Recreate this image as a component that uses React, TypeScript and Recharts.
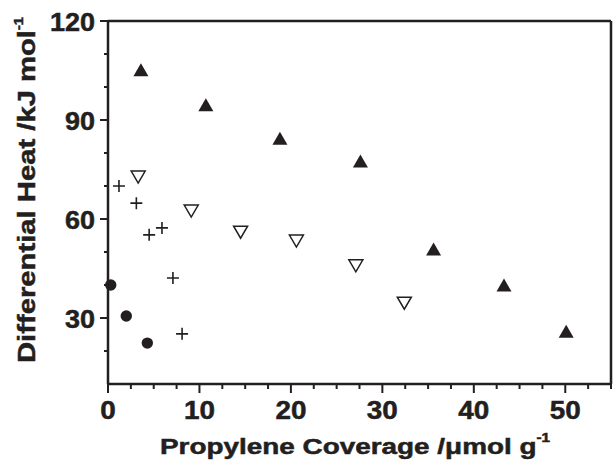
import { ScatterChart, Scatter, XAxis, YAxis, ReferenceLine } from "recharts";

const ink = "#231f20";
const font = "'Liberation Sans', Arial, sans-serif";

// filled up-triangles
const upX = [3.6, 10.7, 18.8, 27.6, 35.6, 43.3, 50.1];
const upY = [105.2, 94.6, 84.5, 77.6, 50.9, 40.0, 26.0];
// open down-triangles
const downX = [3.3, 9.1, 14.5, 20.6, 27.1, 32.4];
const downY = [72.7, 62.4, 56.0, 53.3, 45.8, 34.5];
// crosses
const plusX = [1.2, 3.1, 4.5, 5.9, 7.1, 8.1];
const plusY = [70.0, 64.8, 55.2, 57.3, 42.1, 25.2];
// filled circles
const dotX = [0.3, 2.0, 4.3];
const dotY = [40.0, 30.6, 22.4];

const xTicks = [0, 2.5, 5, 7.5, 10, 12.5, 15, 17.5, 20, 22.5, 25, 27.5, 30, 32.5, 35, 37.5, 40, 42.5, 45, 47.5, 50, 52.5, 55];
const yTicks = [20, 30, 40, 50, 60, 70, 80, 90, 100, 110, 120];

const pts = (xs: number[], ys: number[]) => xs.map((x, i) => ({ x, y: ys[i] }));

const UpTri = (p: any) => (
  <polygon
    points={`${p.cx},${p.cy - 6.5} ${p.cx - 7.5},${p.cy + 6.5} ${p.cx + 7.5},${p.cy + 6.5}`}
    fill={ink}
  />
);
const DownTri = (p: any) => (
  <polygon
    points={`${p.cx - 7},${p.cy - 6} ${p.cx + 7},${p.cy - 6} ${p.cx},${p.cy + 6}`}
    fill="#fff"
    stroke={ink}
    strokeWidth={1.5}
  />
);
const Plus = (p: any) => (
  <path d={`M${p.cx - 6},${p.cy}H${p.cx + 6}M${p.cx},${p.cy - 6}V${p.cy + 6}`} stroke={ink} strokeWidth={1.6} />
);
const Dot = (p: any) => <circle cx={p.cx} cy={p.cy} r={5.7} fill={ink} />;

// bold text, slightly thickened to match the heavy print look
const txt = { fill: ink, fontFamily: font, fontWeight: "bold" as const, stroke: ink, strokeWidth: 0.5 };

const XTick = ({ x, y, payload }: any) => {
  const major = payload.value % 10 === 0;
  const s = String(payload.value);
  return (
    <g>
      <line x1={x} x2={x} y1={y} y2={y + (major ? 9 : 5)} stroke={ink} strokeWidth={2} />
      {major && (
        <text x={x} y={y + 35} textAnchor="middle" {...txt} fontSize={25}
          textLength={s.length * 15.5} lengthAdjust="spacingAndGlyphs">
          {s}
        </text>
      )}
    </g>
  );
};

const YTick = ({ x, y, payload }: any) => {
  const major = payload.value % 30 === 0;
  const s = String(payload.value);
  return (
    <g>
      <line x1={x} x2={x - (major ? 8 : 4)} y1={y} y2={y} stroke={ink} strokeWidth={2} />
      {major && (
        <text x={x - 13} y={y + 10} textAnchor="end" {...txt} fontSize={25}
          textLength={s.length * 15} lengthAdjust="spacingAndGlyphs">
          {s}
        </text>
      )}
    </g>
  );
};

export default function App() {
  return (
    <div style={{ position: "absolute", left: 0, top: 0, width: 615, height: 465, background: "#fff" }}>
      <ScatterChart width={615} height={465} margin={{ top: 21, right: 4, bottom: 0, left: 0 }}>
        <XAxis
          type="number"
          dataKey="x"
          domain={[0, 55]}
          ticks={xTicks}
          interval={0}
          height={81}
          tickSize={0}
          tickMargin={0}
          tickLine={false}
          axisLine={{ stroke: ink, strokeWidth: 2.5 }}
          tick={(p: any) => <XTick {...p} />}
        />
        <YAxis
          type="number"
          dataKey="y"
          domain={[10, 120]}
          ticks={yTicks}
          interval={0}
          width={108}
          tickSize={0}
          tickMargin={0}
          tickLine={false}
          axisLine={{ stroke: ink, strokeWidth: 2.5 }}
          tick={(p: any) => <YTick {...p} />}
        />
        <ReferenceLine y={120} stroke={ink} strokeWidth={2.5} />
        <ReferenceLine x={55} stroke={ink} strokeWidth={2.5} />
        <Scatter data={pts(upX, upY)} shape={UpTri} isAnimationActive={false} />
        <Scatter data={pts(downX, downY)} shape={DownTri} isAnimationActive={false} />
        <Scatter data={pts(plusX, plusY)} shape={Plus} isAnimationActive={false} />
        <Scatter data={pts(dotX, dotY)} shape={Dot} isAnimationActive={false} />
        <text x={160} y={454} {...txt} fontSize={22}
          textLength={390} lengthAdjust="spacingAndGlyphs">
          Propylene Coverage /μmol g<tspan dy={-12} fontSize={12}>-1</tspan>
        </text>
        <text transform="translate(35, 363) rotate(-90)" {...txt} fontSize={24}
          textLength={346} lengthAdjust="spacingAndGlyphs">
          Differential Heat /kJ mol<tspan dy={-12} fontSize={12}>-1</tspan>
        </text>
      </ScatterChart>
    </div>
  );
}
